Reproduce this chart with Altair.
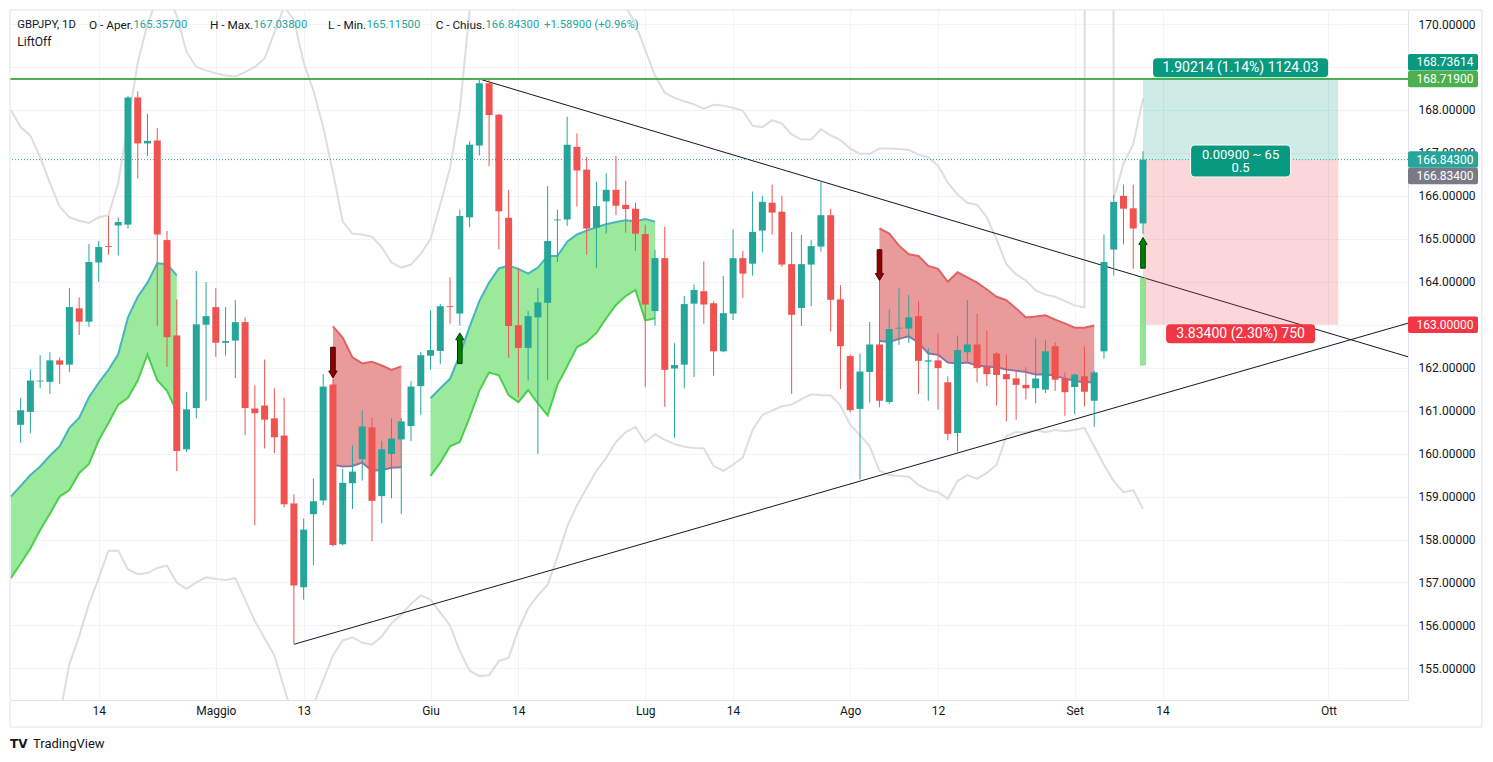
import altair as alt
import pandas as pd
import numpy as np

# ---------------- data (daily bars: 0 = 4 Apr 2022 ... 115 = 12 Sep 2022) ----------------
opens = [160.67, 160.97, 161.68, 161.67, 162.17, 162.07, 163.38, 163.07, 164.45, 164.83,
         165.31, 165.33, 168.29, 167.22, 167.29, 164.97, 162.75, 160.10, 161.06, 163.00,
         163.41, 162.58, 162.63, 163.06, 161.05, 161.12, 160.82, 160.42, 158.84, 156.89,
         158.59, 158.91, 161.61, 157.89, 159.31, 159.87, 160.61, 159.01, 159.99, 160.33,
         160.64, 161.57, 162.28, 162.39, 163.43, 163.26, 165.50, 167.17, 168.62, 167.89,
         165.49, 162.99, 162.46, 163.17, 163.51, 165.43, 165.45, 167.14, 166.61, 165.26,
         165.87, 166.14, 165.79, 165.70, 165.11, 163.32, 164.55, 161.98, 162.07, 163.49,
         163.78, 163.50, 162.38, 163.26, 164.55, 164.42, 165.19, 165.84, 165.63, 164.41,
         163.39, 164.40, 164.82, 165.55, 163.59, 162.27, 161.04, 161.90, 162.54, 161.20,
         162.91, 162.91, 163.20, 162.14, 162.17, 161.66, 160.48, 162.36, 162.54, 162.02,
         162.33, 161.85, 161.75, 161.60, 161.52, 161.49, 162.50, 161.74, 161.55, 161.80,
         161.23, 162.38, 164.75, 166.00, 165.71, 165.357]
highs = [161.30, 161.96, 162.29, 162.36, 162.24, 163.85, 163.64, 164.88, 164.95, 165.53,
         165.50, 168.33, 168.43, 167.91, 167.58, 165.18, 163.59, 161.43, 164.25, 163.99,
         163.85, 163.41, 163.57, 163.17, 161.59, 162.19, 161.52, 161.30, 159.05, 158.49,
         159.42, 161.85, 161.74, 159.64, 160.19, 161.01, 160.84, 160.30, 160.82, 160.83,
         161.69, 162.37, 163.34, 163.48, 164.10, 165.68, 167.27, 168.72, 168.71, 167.90,
         166.14, 164.31, 163.32, 163.85, 166.23, 165.68, 167.84, 167.45, 166.90, 166.33,
         166.53, 166.93, 166.35, 165.84, 165.33, 164.74, 165.28, 162.57, 163.67, 163.94,
         164.47, 163.55, 164.13, 165.22, 164.72, 166.10, 166.00, 166.26, 166.00, 165.16,
         165.09, 164.97, 166.33, 165.70, 163.92, 162.31, 162.33, 163.06, 164.03, 163.36,
         163.85, 163.69, 163.55, 162.45, 162.80, 161.80, 162.75, 163.57, 163.25, 162.86,
         162.36, 162.31, 161.91, 162.01, 162.68, 162.64, 162.59, 161.89, 161.86, 162.50,
         161.93, 165.10, 166.02, 166.26, 166.26, 167.038]
lows = [160.25, 160.48, 161.52, 161.39, 161.62, 161.90, 162.76, 162.95, 164.00, 164.63,
        164.61, 165.24, 166.40, 166.93, 162.97, 162.02, 159.59, 160.04, 160.82, 161.23,
        162.25, 162.28, 161.76, 160.43, 158.33, 160.12, 160.01, 158.75, 155.57, 156.60,
        157.40, 158.80, 157.84, 157.86, 158.71, 159.37, 157.96, 158.38, 158.96, 158.59,
        160.29, 160.90, 161.95, 162.08, 163.02, 162.98, 165.27, 166.94, 166.69, 164.75,
        162.23, 161.31, 161.70, 159.99, 161.71, 164.46, 165.30, 165.75, 164.63, 164.32,
        165.12, 165.55, 165.14, 164.72, 161.55, 162.98, 161.09, 160.37, 161.52, 161.78,
        163.02, 161.81, 162.36, 163.11, 163.63, 164.14, 164.68, 165.10, 164.35, 161.39,
        162.97, 163.43, 164.70, 162.84, 161.50, 160.96, 159.40, 161.19, 161.08, 161.15,
        162.53, 162.58, 161.39, 161.23, 161.02, 160.31, 160.05, 162.14, 161.66, 161.57,
        161.12, 160.75, 160.79, 161.26, 161.17, 161.41, 161.46, 160.88, 160.92, 161.10,
        160.62, 162.21, 164.14, 164.87, 164.30, 165.115]
closes = [161.01, 161.70, 161.70, 162.17, 162.07, 163.41, 163.07, 164.46, 164.81, 164.81,
          165.39, 168.29, 167.22, 167.28, 165.10, 162.71, 160.06, 161.03, 163.01, 163.20,
          162.58, 162.62, 163.06, 161.06, 160.94, 160.79, 160.38, 158.82, 156.93, 158.23,
          158.89, 161.56, 157.87, 159.32, 159.58, 160.63, 158.90, 160.10, 160.35, 160.75,
          161.56, 162.29, 162.41, 163.43, 163.41, 165.53, 167.19, 168.62, 167.88, 165.64,
          162.97, 162.46, 163.20, 163.52, 164.95, 165.45, 167.19, 166.59, 165.24, 165.76,
          166.14, 165.77, 165.69, 165.12, 163.47, 164.55, 161.95, 162.06, 163.48, 163.81,
          163.47, 162.38, 163.27, 164.55, 164.19, 165.16, 165.86, 165.61, 164.40, 163.23,
          164.41, 164.83, 165.55, 163.58, 162.50, 161.01, 161.91, 162.54, 161.23, 162.90,
          162.93, 163.17, 162.16, 162.17, 161.99, 160.46, 162.41, 162.54, 161.99, 161.85,
          161.83, 161.73, 161.60, 161.52, 161.75, 162.38, 161.72, 161.43, 161.84, 161.44,
          161.89, 164.46, 165.86, 165.70, 165.24, 166.843]

# envelope bands (start at bar -1); 400 = off the top of the scale
band_start = -1
upper_band = [168.0, 167.6, 167.4, 166.9, 166.3, 165.75, 165.5, 165.42, 165.37, 165.5,
              165.55, 166.3, 167.7, 169.1, 170.0, 170.6, 170.7, 170.2, 169.35, 169.0,
              168.92, 168.85, 168.8, 168.78, 168.88, 169.0, 169.2, 169.8, 170.4, 170.1,
              169.1, 168.45, 167.6, 166.55, 165.4, 165.12, 165.1, 165.05, 164.8, 164.45,
              164.33, 164.4, 164.65, 165.0, 165.8, 166.65, 168.0, 170.3, 171.6, 172.4,
              172.8, 172.6, 172.3, 172.0, 171.8, 171.6, 171.5, 171.5, 171.6, 171.5,
              171.3, 171.0, 170.7, 170.4, 170.0, 169.4, 168.8, 168.4, 168.28, 168.2,
              168.13, 168.03, 168.12, 168.1, 168.05, 167.98, 167.63, 167.6, 167.76, 167.68,
              167.43, 167.31, 167.31, 167.55, 167.41, 167.3, 167.1, 166.98, 166.98, 167.1,
              167.1, 167.09, 167.07, 166.96, 166.9, 166.7, 166.31, 166.03, 165.84, 165.79,
              165.5, 164.98, 164.41, 164.17, 164.03, 163.8, 163.7, 163.65, 163.55, 163.45,
              163.4, 400.0, 400.0, 165.94, 166.75, 167.2, 168.26]
lower_band = [150.5, 151.0, 151.8, 152.6, 153.3, 153.9, 155.1, 155.75, 156.5, 157.1,
              157.74, 157.74, 157.31, 157.19, 157.22, 157.34, 157.39, 157.0, 156.85, 157.0,
              157.12, 157.08, 157.06, 157.1, 156.6, 156.1, 155.7, 155.3, 154.55, 153.8,
              153.7, 154.15, 154.72, 155.3, 155.65, 155.72, 155.6, 155.55, 155.74, 156.05,
              156.25, 156.5, 156.7, 156.6, 156.3, 156.0, 155.4, 154.95, 154.82, 154.84,
              155.17, 155.25, 155.9, 156.4, 156.7, 156.95, 157.6, 158.3, 158.8, 159.2,
              159.6, 159.9, 160.27, 160.5, 160.62, 160.27, 160.45, 160.32, 160.22, 160.16,
              160.13, 160.12, 159.71, 159.6, 159.74, 159.91, 160.55, 160.9, 161.0, 161.1,
              161.14, 161.27, 161.38, 161.36, 161.36, 161.12, 160.67, 160.43, 160.17, 159.6,
              159.5, 159.48, 159.46, 159.27, 159.15, 159.1, 158.95, 159.36, 159.5, 159.41,
              159.55, 159.74, 160.41, 160.5, 160.49, 160.55, 160.5, 160.55, 160.52, 160.55,
              160.6, 160.17, 159.74, 159.36, 159.1, 159.15, 158.71]

# LiftOff clouds
g1_start = -1
g1_top = [159.0, 159.25, 159.5, 159.7, 159.95, 160.17, 160.6, 160.83, 161.31, 161.65,
          161.95, 162.31, 163.17, 163.65, 163.98, 164.43, 164.41, 164.15]
g1_bot = [157.1, 157.44, 157.79, 158.22, 158.6, 159.0, 159.15, 159.55, 159.76, 160.31,
          160.71, 161.14, 161.3, 161.7, 162.31, 161.71, 161.46, 160.98]
g2_start = 42
g2_top = [161.29, 161.52, 161.74, 162.3, 162.95, 163.55, 163.98, 164.31, 164.38, 164.3,
          164.19, 164.33, 164.6, 164.6, 164.93, 165.1, 165.19, 165.27, 165.34, 165.39,
          165.43, 165.41, 165.46, 165.4]
g2_bot = [159.48, 159.79, 160.17, 160.27, 160.84, 161.46, 161.89, 161.82, 161.36, 161.2,
          161.48, 161.17, 160.89, 161.6, 162.03, 162.48, 162.6, 162.81, 163.15, 163.46,
          163.67, 163.81, 163.1, 163.15]
r1_start = 32
r1_top = [162.96, 162.70, 162.24, 162.1, 162.14, 162.05, 161.95, 162.03]
r1_bot = [159.74, 159.7, 159.71, 159.79, 159.6, 159.62, 159.67, 159.68]
r2_start = 88
r2_top = [165.24, 165.12, 164.84, 164.64, 164.6, 164.37, 164.3, 164.0, 164.22, 164.1,
          163.98, 163.82, 163.65, 163.57, 163.38, 163.17, 163.19, 163.22, 163.12, 163.03,
          162.93, 162.93, 162.98]
r2_bot = [162.62, 162.6, 162.67, 162.73, 162.58, 162.33, 162.3, 162.12, 162.1, 162.12,
          162.05, 162.03, 162.01, 161.96, 161.93, 161.9, 161.84, 161.84, 161.82, 161.74,
          161.7, 161.65, 161.67]

sell_bars, sell_tips = [32, 88], [161.76, 164.03]
buy_bars, buy_tips = [45, 115], [162.81, 165.03]

# triangle trend lines (two points each, extended to the right edge)
tl_x1, tl_y1 = [47, 28], [168.72, 155.56]
tl_x2, tl_y2 = [150, 150], [161.72, 163.55]

resistance = 168.719
last_close = 166.843
entry, target, stop = 166.834, 168.73614, 163.0
tool_x0, tool_x1 = 115, 135
lift_bar, lift_top, lift_bot = 115, 164.09, 162.05

tick_idx = [8, 20, 29, 42, 51, 64, 73, 85, 94, 108, 117, 134]
tick_lbl = ["14", "Maggio", "13", "Giu", "14", "Lug", "14", "Ago", "12", "Set", "14", "Ott"]
price_ticks = list(range(155, 171))

# ---------------- style ----------------
W, H = 1398, 690
PAD = {"left": 10, "top": 10, "right": 85, "bottom": 62}
XDOM = [-0.576, 141.64]
YDOM = [154.264, 170.326]
FONT = "Roboto"
TXT = "#131722"
UP, DOWN = "#26a69a", "#ef5350"
GRID = "#f0f3fa"
BORDER = "#e0e3eb"

xs = alt.Scale(domain=XDOM, nice=False, zero=False)
ys = alt.Scale(domain=YDOM, nice=False, zero=False)

x_expr = " : ".join(f"datum.value == {i} ? '{l}'" for i, l in zip(tick_idx, tick_lbl)) + " : ''"
x_axis = alt.Axis(values=tick_idx, labelExpr=x_expr, grid=True, gridColor=GRID, gridWidth=1,
                  ticks=False, tickSize=0, labelPadding=5, labelFontSize=12, labelFont=FONT,
                  labelColor=TXT, domainColor=BORDER, domainWidth=1, title=None,
                  labelFlush=False, labelOverlap=False, labelAngle=0)
y_axis = alt.Axis(orient="right", values=price_ticks,
                  labelExpr="datum.value == 169 || datum.value == 163 ? '' : format(datum.value, '.5f')",
                  grid=True, gridColor=GRID, gridWidth=1, ticks=False, tickSize=0, labelPadding=10,
                  labelFontSize=12, labelFont=FONT, labelColor=TXT, domainColor=BORDER,
                  domainWidth=1, title=None, labelAlign="left", labelOverlap=False, labelFlush=False)


def X(f):
    return alt.X(f, type="quantitative", scale=xs, axis=x_axis)


def Y(f):
    return alt.Y(f, type="quantitative", scale=ys, axis=y_axis, stack=None)


# ---------------- frames ----------------
n = len(opens)
cdf = pd.DataFrame({"i": range(n), "o": opens, "h": highs, "l": lows, "c": closes})
cdf["col"] = np.where(cdf["c"] >= cdf["o"], UP, DOWN)

bidx = list(range(band_start, band_start + len(upper_band)))
bdf = pd.concat([
    pd.DataFrame({"i": bidx, "v": upper_band, "s": "up"}),
    pd.DataFrame({"i": bidx, "v": lower_band, "s": "lo"}),
])


def cloud(start, top, bot, cid):
    return pd.DataFrame({"i": range(start, start + len(top)), "top": top, "bot": bot, "cid": cid})


gdf = pd.concat([cloud(g1_start, g1_top, g1_bot, "g1"), cloud(g2_start, g2_top, g2_bot, "g2")])
rdf = pd.concat([cloud(r1_start, r1_top, r1_bot, "r1"), cloud(r2_start, r2_top, r2_bot, "r2")])

tdf = pd.DataFrame({"x1": tl_x1, "y1": tl_y1, "x2": tl_x2, "y2": tl_y2})
one = pd.DataFrame({"a": [0]})

# ---------------- layers ----------------
bands = alt.Chart(bdf).mark_line(clip=True, color="#dedede", strokeWidth=2).encode(
    x=X("i"), y=Y("v"), detail="s:N")

g_area = alt.Chart(gdf).mark_area(clip=True, color="#9be99b", opacity=1).encode(
    x=X("i"), y=Y("top"), y2="bot", detail="cid:N")
r_area = alt.Chart(rdf).mark_area(clip=True, color="#e99b9b", opacity=1).encode(
    x=X("i"), y=Y("top"), y2="bot", detail="cid:N")
g_top = alt.Chart(gdf).mark_line(clip=True, color="#45b5c2", strokeWidth=2).encode(
    x=X("i"), y=Y("top"), detail="cid:N")
g_bot = alt.Chart(gdf).mark_line(clip=True, color="#4ccf4c", strokeWidth=2).encode(
    x=X("i"), y=Y("bot"), detail="cid:N")
r_top = alt.Chart(rdf).mark_line(clip=True, color="#e06262", strokeWidth=2).encode(
    x=X("i"), y=Y("top"), detail="cid:N")
r_bot = alt.Chart(rdf).mark_line(clip=True, color="#8a77a6", strokeWidth=2).encode(
    x=X("i"), y=Y("bot"), detail="cid:N")

trend = alt.Chart(tdf).mark_rule(clip=True, color="#131722", strokeWidth=1).encode(
    x=X("x1"), x2="x2", y=Y("y1"), y2="y2")

zones = alt.Chart(pd.DataFrame({
    "x0": [tool_x0, tool_x0], "x1": [tool_x1, tool_x1],
    "lo": [entry, stop], "hi": [target, entry], "col": ["#089981", "#f23645"]})
).mark_rect(opacity=0.2).encode(x=X("x0"), x2="x1", y=Y("lo"), y2="hi",
                                color=alt.Color("col:N", scale=None))

res_line = alt.Chart(pd.DataFrame({"p": [resistance]})).mark_rule(
    color="#4caf50", strokeWidth=2).encode(y=Y("p"))
close_line = alt.Chart(pd.DataFrame({"p": [last_close]})).mark_rule(
    color="#26a69a", strokeWidth=1, strokeDash=[1, 2]).encode(y=Y("p"))

lift = alt.Chart(pd.DataFrame({"i": [lift_bar], "a": [lift_top], "b": [lift_bot]})).mark_bar(
    size=6, color="#78de78", opacity=0.8).encode(x=X("i"), y=Y("a"), y2="b")

wicks = alt.Chart(cdf).mark_rule(strokeWidth=1).encode(
    x=X("i"), y=Y("l"), y2="h", color=alt.Color("col:N", scale=None))
bodies = alt.Chart(cdf).mark_bar(size=7).encode(
    x=X("i"), y=Y("o"), y2="c", color=alt.Color("col:N", scale=None))

DOWN_ARROW = "M -0.15 -2 L 0.15 -2 L 0.15 -0.45 L 0.27 -0.45 L 0 0 L -0.27 -0.45 L -0.15 -0.45 Z"
UP_ARROW = "M -0.15 2 L 0.15 2 L 0.15 0.45 L 0.27 0.45 L 0 0 L -0.27 0.45 L -0.15 0.45 Z"
sells = alt.Chart(pd.DataFrame({"i": sell_bars, "p": sell_tips})).mark_point(
    shape=DOWN_ARROW, size=942, filled=True, fill="#8b0000", stroke="#4a0000",
    strokeWidth=1, opacity=1).encode(x=X("i"), y=Y("p"))
buys = alt.Chart(pd.DataFrame({"i": buy_bars, "p": buy_tips})).mark_point(
    shape=UP_ARROW, size=942, filled=True, fill="#008000", stroke="#003d00",
    strokeWidth=1, opacity=1).encode(x=X("i"), y=Y("p"))


def rrect(w, h, r):
    hh = h / w
    rr = r / (w / 2.0)
    return (f"M {-1 + rr} {-hh} L {1 - rr} {-hh} Q 1 {-hh} 1 {-hh + rr} L 1 {hh - rr} "
            f"Q 1 {hh} {1 - rr} {hh} L {-1 + rr} {hh} Q -1 {hh} -1 {hh - rr} "
            f"L -1 {-hh + rr} Q -1 {-hh} {-1 + rr} {-hh} Z")


tool_mid = (tool_x0 + tool_x1) / 2.0
tool_labels = []
for price, w, h, col, yoff, lines, fs, stroke in [
    (target, 175, 19, "#089981", -10.5, [("1.90214 (1.14%) 1124.03", 0)], 14, None),
    (entry, 100, 32, "#089981", 1, [("0.00900 ~ 65", -6.5), ("0.5", 6.5)], 13, "#ffffff"),
    (stop, 149, 19, "#f23645", 9, [("3.83400 (2.30%) 750", 0)], 14, None),
]:
    d = pd.DataFrame({"i": [tool_mid], "p": [price]})
    kw = dict(stroke=stroke, strokeWidth=1) if stroke else dict(strokeWidth=0)
    tool_labels.append(alt.Chart(d).mark_point(
        shape=rrect(w, h, 4), size=w * w, filled=True, fill=col, opacity=1, yOffset=yoff, **kw
    ).encode(x=X("i"), y=Y("p")))
    for txt, dy in lines:
        tool_labels.append(alt.Chart(d).mark_text(
            text=txt, color="white", font=FONT, fontSize=fs, align="center",
            baseline="middle", yOffset=yoff + dy).encode(x=X("i"), y=Y("p")))

axis_tags = []
for price, col, yoff in [(target, "#089981", -16), (resistance, "#4caf50", 0),
                         (last_close, "#26a69a", 0), (entry, "#787b86", 16), (stop, "#f23645", 0)]:
    d = pd.DataFrame({"p": [price]})
    axis_tags.append(alt.Chart(d).mark_point(
        shape=rrect(70, 16.5, 2), size=4900, filled=True, fill=col, opacity=1, strokeWidth=0,
        yOffset=yoff).encode(x=alt.value(W + 35), y=Y("p")))
    axis_tags.append(alt.Chart(d).mark_text(
        text=f"{price:.5f}", color="white", font=FONT, fontSize=12, align="center",
        baseline="middle", yOffset=yoff).encode(x=alt.value(W + 37), y=Y("p")))

# header texts (page coordinates minus padding)
VAL = "#26a69a"
hdr_left = pd.DataFrame({
    "t": ["GBPJPY, 1D", "165.35700", "167.03800", "165.11500", "166.84300", "+1.58900 (+0.96%)"],
    "x": [7.3, 123.5, 243.5, 356.5, 475.5, 534.0],
    "col": [TXT, VAL, VAL, VAL, VAL, VAL]})
hdr_right = pd.DataFrame({"t": ["O - Aper.", "H - Max.", "L - Min.", "C - Chius."],
                          "x": [123.2, 243.2, 356.2, 475.2]})
h1 = alt.Chart(hdr_left).mark_text(align="left", baseline="middle", font=FONT, fontSize=11.3).encode(
    x=alt.X("x:Q", scale=None), y=alt.value(15), text="t:N", color=alt.Color("col:N", scale=None))
h2 = alt.Chart(hdr_right).mark_text(align="right", baseline="middle", font=FONT, fontSize=11.8,
                                    color=TXT).encode(x=alt.X("x:Q", scale=None), y=alt.value(15),
                                                      text="t:N")
h3 = alt.Chart(one).mark_text(text="LiftOff", align="left", baseline="middle", font=FONT,
                              fontSize=12, color=TXT).encode(x=alt.value(7.3), y=alt.value(32))
logo1 = alt.Chart(one).mark_text(text="TV", align="left", baseline="middle", font="DejaVu Sans",
                                 fontWeight=900, fontSize=12, color=TXT, dx=-1).encode(
    x=alt.value(1), y=alt.value(734))
logo2 = alt.Chart(one).mark_text(text="TradingView", align="left", baseline="middle", font=FONT,
                                 fontSize=13, color=TXT).encode(x=alt.value(23), y=alt.value(734))
frame = alt.Chart(one).mark_rect(fillOpacity=0, stroke=BORDER, strokeWidth=1).encode(
    x=alt.value(0), x2=alt.value(1472), y=alt.value(0), y2=alt.value(717))

chart = alt.layer(
    bands, g_area, r_area, g_top, g_bot, r_top, r_bot, trend, zones, res_line, close_line,
    lift, wicks, bodies, sells, buys, *tool_labels, *axis_tags, h1, h2, h3, logo1, logo2, frame
).properties(
    width=W, height=H, padding=PAD, autosize=alt.AutoSizeParams(type="none"), background="white"
).configure_view(stroke=None)

chart.save("out.html", embed_options={"renderer": "svg", "actions": False})
